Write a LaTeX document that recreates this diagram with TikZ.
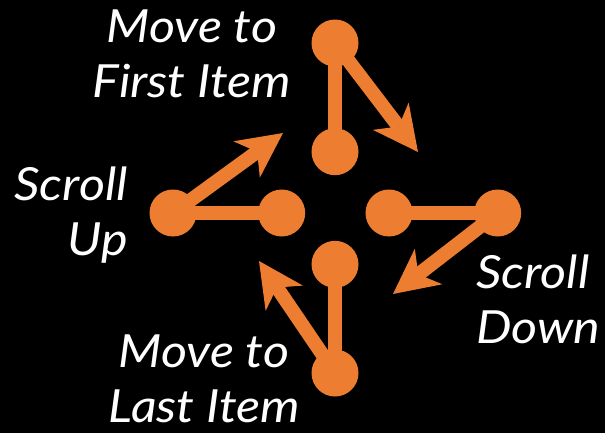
\documentclass[tikz,border=0pt]{standalone}
\usepackage{fontspec}
\setmainfont[FakeStretch=1.1]{Lato}
\usetikzlibrary{arrows.meta, positioning}
\definecolor{navorange}{RGB}{237,125,49}

\begin{document}
\begin{tikzpicture}[
    x=0.02cm, y=-0.02cm,
    >={Stealth[length=0.9cm, width=0.9cm, inset=0.26cm, line width=0pt]},
    dot/.style={
        circle,
        fill=navorange,
        minimum size=0.94cm,
        inner sep=0pt
    },
    link/.style={
        draw=navorange,
        line width=0.28cm
    },
    hint/.style={
        text=white,
        font=\itshape\fontsize{26}{31.3}\selectfont,
        inner sep=0pt
    }
]

% Background
\fill[black] (0,0) rectangle (605,433);

% Nodes
\node[dot] (firstTop) at (335,43) {};
\node[dot, below=1.22cm of firstTop] (firstBot) {};
\node[dot] (upLeft) at (173,213) {};
\node[dot, right=1.22cm of upLeft] (upRight) {};
\node[dot] (downLeft) at (389,213) {};
\node[dot, right=1.22cm of downLeft] (downRight) {};
\node[dot] (lastBot) at (335,373) {};
\node[dot, above=1.22cm of lastBot] (lastTop) {};

% Arrow tips
\coordinate (firstTip) at (418,152);
\coordinate (upTip) at (283,133);
\coordinate (downTip) at (393,294);
\coordinate (lastTip) at (259,261);

% Bars
\draw[link] (firstTop.center) -- (firstBot.center);
\draw[link] (upLeft.center) -- (upRight.center);
\draw[link] (downLeft.center) -- (downRight.center);
\draw[link] (lastBot.center) -- (lastTop.center);

% Arrows
\draw[link, ->] (firstTop.center) -- (firstTip);
\draw[link, ->] (upLeft.center) -- (upTip);
\draw[link, ->] (downRight.center) -- (downTip);
\draw[link, ->] (lastBot.center) -- (lastTip);

% Labels (base = last line)
\node[hint, align=center, anchor=base] (firstText) at (192,97) {Move to\\First Item};
\node[hint, align=right, anchor=base east] (upText) at (128,255) {Scroll\\Up};
\node[hint, align=left, anchor=base west] (downText) at (476,343) {Scroll\\Down};
\node[hint, align=center, anchor=base] (lastText) at (204,422) {Move to\\Last Item};

\end{tikzpicture}
\end{document}
